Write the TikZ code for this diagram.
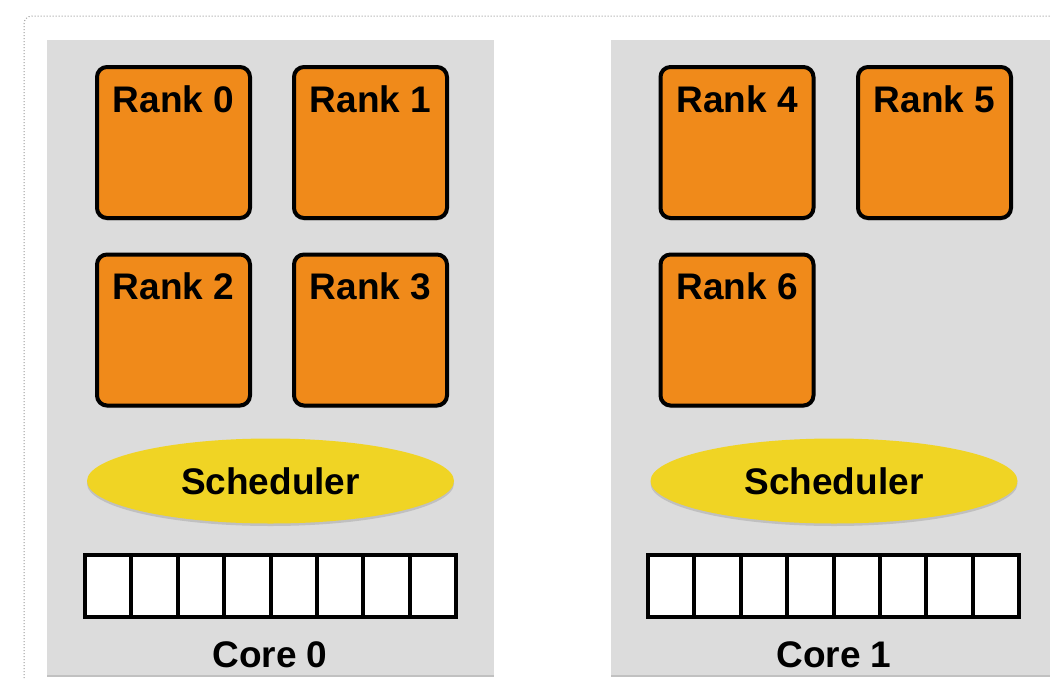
\documentclass[tikz,border=0pt]{standalone}
\usepackage{fontspec}
\setmainfont{Liberation Sans}
\usetikzlibrary{shapes.geometric,shadows}
\definecolor{panelgray}{HTML}{DCDCDC}
\definecolor{rankorange}{HTML}{F08A1A}
\definecolor{schedyellow}{HTML}{F0D424}
\definecolor{dotgray}{HTML}{999999}
\begin{document}
\begin{tikzpicture}[x=1pt,y=-1pt,
  panel/.style={fill=panelgray, draw=none,
    drop shadow={shadow xshift=0pt, shadow yshift=-1.5pt, opacity=0.4, fill=black!60}},
  rankbox/.style={draw=black, line width=4pt, fill=rankorange, rounded corners=10pt,
    minimum width=153pt, minimum height=151pt, inner sep=0pt,
    drop shadow={shadow xshift=0pt, shadow yshift=-2.5pt, opacity=0.35}},
  biglabel/.style={font=\bfseries\fontsize{37}{41}\selectfont, inner sep=0pt},
  sched/.style={ellipse, fill=schedyellow, draw=none, minimum width=367pt, minimum height=85pt,
    inner sep=0pt, font=\bfseries\fontsize{37}{41}\selectfont,
    drop shadow={shadow xshift=0pt, shadow yshift=-2.5pt, opacity=0.3}},
  cell/.style={draw=black, fill=white, line width=4pt, minimum width=46.375pt,
    minimum height=62pt, inner sep=0pt}
]
\useasboundingbox (0,0) rectangle (1050,678);
\fill[white] (0,0) rectangle (1050,678);
% dotted outer frame
\draw[dotgray, dotted, line width=1pt, rounded corners=8pt] (24,720) |- (1100,16);
% panels
\path[panel] (47,40) rectangle (494,675);
\path[panel] (611,40) rectangle (1100,675);
% rank boxes
\node[rankbox] (r0) at (173.5,142.5) {};
\node[rankbox] (r1) at (370.5,142.5) {};
\node[rankbox] (r2) at (173.5,330) {};
\node[rankbox] (r3) at (370.5,330) {};
\node[rankbox] (r4) at (737,142.5) {};
\node[rankbox] (r5) at (934.5,142.5) {};
\node[rankbox] (r6) at (737,330) {};
\foreach \n/\t in {r0/Rank 0, r1/Rank 1, r2/Rank 2, r3/Rank 3, r4/Rank 4, r5/Rank 5, r6/Rank 6}
  \node[biglabel] (\n-label) at ([yshift=-34pt]\n.north) {\t};
% schedulers
\node[sched] (s0) at (270.5,481) {Scheduler};
\node[sched] (s1) at (834,481) {Scheduler};
% cell rows
\foreach \i in {0,...,7} {
  \node[cell] (a\i) at ({85+46.375*(\i+0.5)},586) {};
  \node[cell] (b\i) at ({648+46.375*(\i+0.5)},586) {};
}
% core labels
\node[biglabel] (core0) at (270,655) {Core 0};
\node[biglabel] (core1) at (834,655) {Core 1};
\end{tikzpicture}
\end{document}
